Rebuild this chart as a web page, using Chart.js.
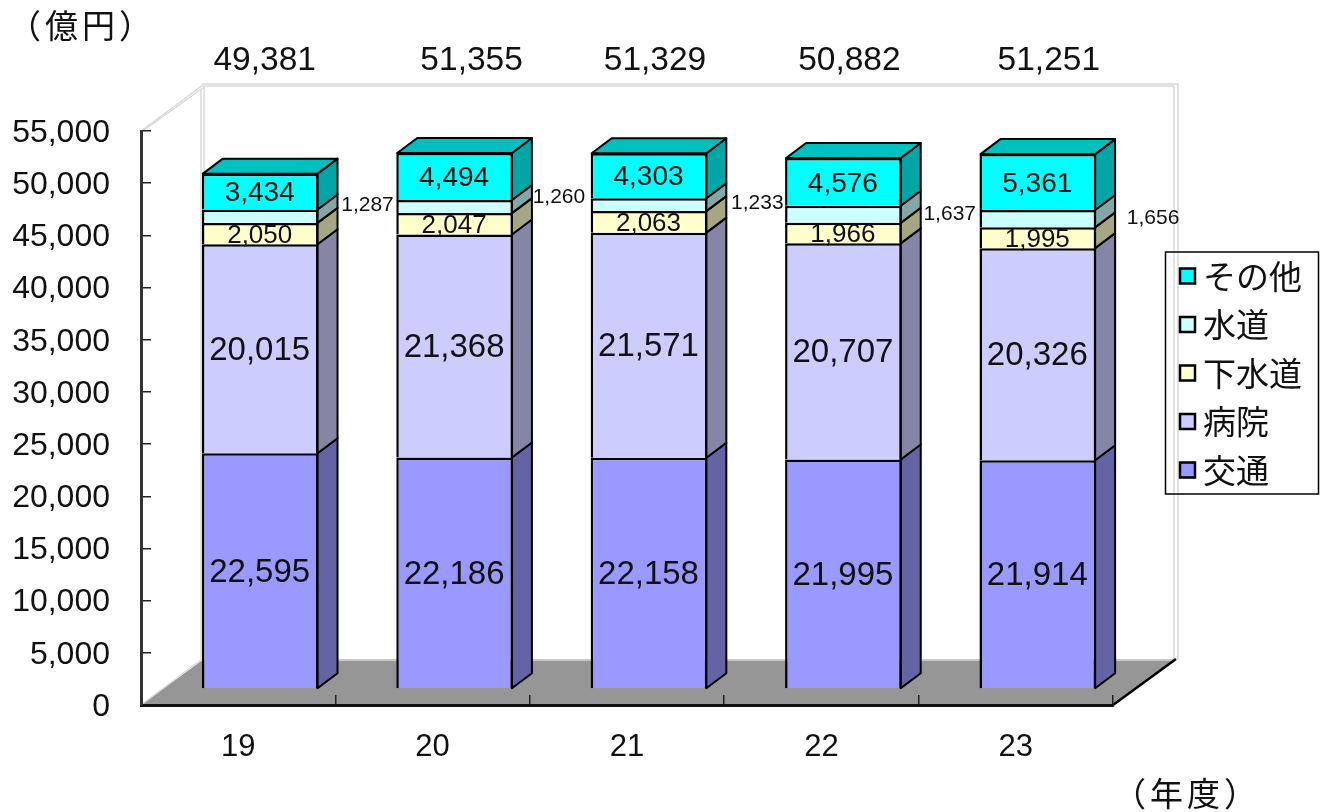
<!DOCTYPE html>
<html lang="ja"><head><meta charset="utf-8">
<style>html,body{margin:0;padding:0;background:#fff}canvas{display:block}</style>
<script src="https://cdn.jsdelivr.net/npm/chart.js@4"></script>
</head><body><canvas id="c" width="1325" height="812"></canvas>
<script>
const categories = ['19','20','21','22','23'];
const seriesTransport = [22595,22186,22158,21995,21914];
const seriesHospital  = [20015,21368,21571,20707,20326];
const seriesSewer     = [2050,2047,2063,1966,1995];
const seriesWater     = [1287,1260,1233,1637,1656];
const seriesOther     = [3434,4494,4303,4576,5361];
const totals          = [49381,51355,51329,50882,51251];
const tickStep = 5000, axisMax = 55000;
const unitLabel = '（億円）', yearLabel = '（年度）';

// placement nudges for hand-placed labels
const totalNudgeX = [4.5,17,6,6,11];
const waterNudgeX = [49,46,50,48,57];
const waterNudgeY = [-13,-11,-3,-2,-3];

const NUM = '"Liberation Sans", Arial, sans-serif';
const CJK = '"Noto Sans CJK JP", sans-serif';
const INK = '#111';
const BAR = {dx:22, dy:-16}, SIDE = {dx:20, dy:-15}, WALL = {dx:63, dy:-46};
const fmt = v => v.toLocaleString('en-US');

const ds = (label,data,bg,side,top,size) => ({label,data,backgroundColor:bg,borderColor:'#000',borderWidth:2.5,
  stack:'s',sideColor:side,topColor:top,labelSize:size,barPercentage:1,categoryPercentage:0.6});

const threeD = {
  id:'threeD',
  beforeDraw(chart){
    const {ctx,chartArea:a} = chart;
    const L=a.left,R=a.right,T=a.top,B=a.bottom,dx=WALL.dx,dy=WALL.dy;
    ctx.save();
    ctx.fillStyle='#fff';ctx.fillRect(0,0,chart.width,chart.height);
    // floor
    ctx.fillStyle='#969696';
    ctx.beginPath();ctx.moveTo(L,B);ctx.lineTo(R,B);ctx.lineTo(R+dx,B+dy);ctx.lineTo(L+dx,B+dy);ctx.closePath();ctx.fill();
    // walls
    ctx.strokeStyle='#d9d9d9';ctx.lineWidth=1.5;
    ctx.beginPath();
    ctx.moveTo(L+dx,B+dy);ctx.lineTo(L+dx,T+dy+1);ctx.lineTo(R+dx-2,T+dy+1);ctx.lineTo(R+dx-2,B+dy+1);ctx.lineTo(L+dx,B+dy+1);
    ctx.moveTo(L+dx-3,T+dy+4);ctx.lineTo(L+dx-3,B+dy);
    ctx.moveTo(L+dx-2,T+dy-1);ctx.lineTo(R+dx+2,T+dy-1);ctx.lineTo(R+dx+2,B+dy+1);
    ctx.moveTo(L,T);ctx.lineTo(L+dx-1,T+dy);
    ctx.moveTo(L+2,T);ctx.lineTo(L+dx,T+dy+2);
    ctx.moveTo(L,B);ctx.lineTo(L+dx-2,B+dy);
    ctx.stroke();
    // floor right edge
    ctx.strokeStyle='#000';ctx.lineWidth=2.5;
    ctx.beginPath();ctx.moveTo(R,B);ctx.lineTo(R+dx,B+dy);ctx.stroke();
    ctx.restore();
  },
  beforeDatasetsDraw(chart){
    const ctx=chart.ctx;
    ctx.save();ctx.translate(BAR.dx,BAR.dy);
    chart.data.datasets.forEach((d,di)=>{
      chart.getDatasetMeta(di).data.forEach(el=>{
        const r=el.x+el.width/2-1, y=el.y, b=el.base;
        ctx.fillStyle=d.sideColor;ctx.strokeStyle='#000';ctx.lineWidth=2;ctx.lineJoin='round';
        ctx.beginPath();ctx.moveTo(r,y);ctx.lineTo(r+SIDE.dx,y+SIDE.dy);ctx.lineTo(r+SIDE.dx,b+SIDE.dy);ctx.lineTo(r,b);ctx.closePath();ctx.fill();ctx.stroke();
        if(di===chart.data.datasets.length-1){
          const l=el.x-el.width/2+1;
          ctx.fillStyle=d.topColor;
          ctx.beginPath();ctx.moveTo(l,y);ctx.lineTo(l+SIDE.dx,y+SIDE.dy);ctx.lineTo(r+SIDE.dx,y+SIDE.dy);ctx.lineTo(r,y);ctx.closePath();ctx.fill();ctx.stroke();
        }
      });
    });
  },
  afterDatasetsDraw(chart){
    const ctx=chart.ctx;
    ctx.restore();
    ctx.save();
    ctx.textAlign='center';ctx.textBaseline='middle';ctx.fillStyle=INK;
    chart.data.datasets.forEach((d,di)=>{
      chart.getDatasetMeta(di).data.forEach((el,i)=>{
        const mid=(el.y+el.base)/2+BAR.dy+2;
        ctx.font=d.labelSize+'px '+NUM;
        if(di===3) ctx.fillText(fmt(d.data[i]),el.x+BAR.dx+el.width/2+waterNudgeX[i],mid+waterNudgeY[i]);
        else ctx.fillText(fmt(d.data[i]),el.x+BAR.dx-0.5,mid);
      });
    });
    // totals
    ctx.font='33.5px '+NUM;
    const m=chart.getDatasetMeta(0).data;
    totals.forEach((t,i)=>ctx.fillText(fmt(t),m[i].x+BAR.dx+totalNudgeX[i],61));
    // axis unit labels
    ctx.font='33px '+CJK;
    ctx.letterSpacing='4px';
    ctx.fillText(unitLabel,82,25);
    ctx.fillText(yearLabel,1187,793);
    ctx.letterSpacing='0px';
    // legend frame
    ctx.strokeStyle='#000';ctx.lineWidth=1.5;
    ctx.strokeRect(1165.5,252,153,242);
    ctx.restore();
  },
  afterLayout(chart){
    const l=chart.legend;
    if(!l) return;
    const w=l.width,h=l.height;
    l.left=1164.5;l.top=244;l.right=l.left+w;l.bottom=l.top+h;
    if(!l._patched){
      l._patched=true;
      const orig=l.draw.bind(l);
      l.draw=function(){
        const c=l.ctx,ft=c.fillText;
        c.fillText=function(t,x,y,...r){return ft.call(c,t,x-8.5,y,...r);};
        orig();
        c.fillText=ft;
      };
    }
  }
};

new Chart(document.getElementById('c'),{
  type:'bar',
  data:{labels:categories,datasets:[
    ds('交通',seriesTransport,'#9999FF','#6363A6','#7373BF',33),
    ds('病院',seriesHospital,'#CCCCFF','#8585A6','#9999BF',33),
    ds('下水道',seriesSewer,'#FFFFCC','#A6A685','#BFBF99',26),
    ds('水道',seriesWater,'#CCFFFF','#85A6A6','#99BFBF',21),
    ds('その他',seriesOther,'#00FFFF','#00A6A6','#00BFBF',28)
  ]},
  options:{
    responsive:false,animation:false,
    layout:{autoPadding:false,padding:{left:0,right:212,top:131,bottom:0}},
    plugins:{
      tooltip:{enabled:false},
      legend:{display:true,position:'chartArea',align:'start',reverse:true,
        labels:{boxWidth:15,boxHeight:15,padding:15.5,color:INK,
          font:{family:CJK,size:33,lineHeight:1}}}
    },
    scales:{
      x:{stacked:true,afterFit(s){s.height=107;},
        grid:{display:true,drawOnChartArea:false,drawTicks:true,tickLength:-10,color:'#222',lineWidth:1.5},
        border:{display:true,color:'#111',width:3},
        ticks:{color:INK,padding:34,font:{family:NUM,size:31},maxRotation:0}},
      y:{stacked:true,min:0,max:axisMax,afterFit(s){s.width=141;},
        grid:{display:true,drawOnChartArea:false,drawTicks:true,tickLength:-10,color:'#222',lineWidth:1.5},
        border:{display:true,color:'#333',width:3},
        ticks:{color:INK,padding:41,stepSize:tickStep,labelOffset:2,font:{family:NUM,size:32},callback:v=>fmt(v)}}
    }
  },
  plugins:[threeD]
});
</script></body></html>
